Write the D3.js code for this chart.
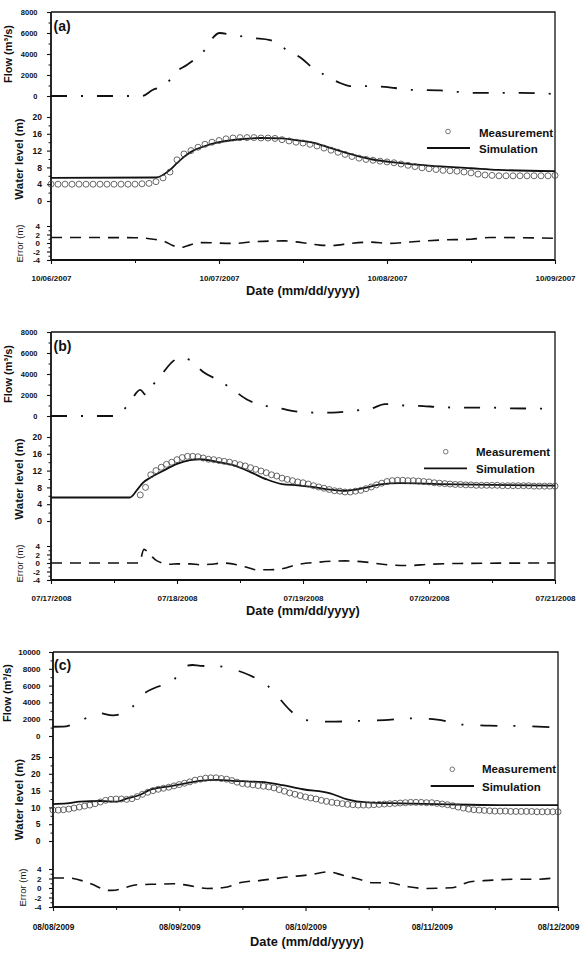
<!DOCTYPE html>
<html>
<head>
<meta charset="utf-8">
<script src="https://cdn.jsdelivr.net/npm/d3@7"></script>
<style>
body { margin: 0; background: #fff; }
svg { display: block; }
</style>
</head>
<body>
<script>
var W = 582, H = 968;
var FONT = '"Liberation Sans", Arial, Helvetica, sans-serif';

// ---- panel (a) : hours counted from 10/06/2007 00:00
var aDays = ["10/06/2007", "10/07/2007", "10/08/2007", "10/09/2007"];
var aMeas = [4.0, 4.0, 4.0, 4.0, 4.0, 4.0, 4.0, 4.0, 4.0, 4.0, 4.0, 4.0, 4.0, 4.1,
             4.2, 4.6, 5.5, 6.9, 9.8, 11.2, 12.0, 12.8, 13.5, 14.0, 14.4, 14.8, 15.0, 15.1,
             15.1, 15.1, 15.0, 15.0, 14.9, 14.6, 14.3, 14.0, 13.8, 13.5, 13.1, 12.6, 12.1, 11.6,
             11.1, 10.6, 10.2, 9.9, 9.7, 9.5, 9.3, 9.1, 8.8, 8.5, 8.2, 7.9, 7.7, 7.5,
             7.3, 7.2, 7.1, 6.9, 6.7, 6.4, 6.2, 6.1, 6.0, 6.0, 6.0, 6.0, 6.0, 6.0,
             6.0, 6.0, 6.1];
var aSim = [[0, 5.5], [15, 5.6], [17, 7.4], [18, 9.0], [19, 10.5], [20, 11.7], [21, 12.5], [22, 13.1],
            [24, 14.0], [27, 14.7], [30, 15.0], [33, 14.9], [35, 14.5], [37.4, 13.9], [40, 12.6],
            [42.3, 11.4], [45.6, 10.0], [50, 9.0], [54, 8.4], [60, 7.8], [64, 7.4], [72, 7.1]];
var aFlow = [[0, 0], [13, 0], [14.5, 570], [16, 950], [16.6, 1240], [17.7, 2190], [19.4, 2950],
             [20.4, 3430], [22.3, 4670], [23.1, 5520], [24.1, 6000], [26, 5800], [28.9, 5520],
             [31.3, 5330], [33.4, 4500], [35.9, 3520], [37.4, 2660], [39.4, 1900], [41.3, 1240],
             [42.7, 950], [44.9, 950], [47.7, 860], [49.1, 760], [52, 570], [55.6, 530],
             [58.4, 380], [61.3, 290], [67, 290], [72, 190]];
var aErr = [[0, 1.3], [12, 1.25], [14.6, 0.9], [16.3, 0.3], [17.4, -0.6], [18.4, -1.1], [19.4, -0.7],
            [21.3, 0.1], [26, -0.1], [29, 0.3], [33.4, 0.5], [35.6, 0.15], [38.4, -0.5], [40.3, -0.6],
            [42.7, -0.1], [45.6, 0.2], [48.4, -0.1], [51.7, 0.3], [55.6, 0.7], [60, 0.9],
            [62.7, 1.3], [67, 1.25], [72, 1.1]];

// ---- panel (b) : hours counted from 07/17/2008 00:00
var bDays = ["07/17/2008", "07/18/2008", "07/19/2008", "07/20/2008", "07/21/2008"];
var bMeas = [null, null, null, null, null, null, null, null, null, null, null, null, null, null, null, null, null,
             6.2, 8.0, 11.0, 12.0, 12.8, 13.5, 14.0, 14.6, 15.1, 15.4,
             15.4, 15.3, 15.0, 14.7, 14.6, 14.4, 14.2, 14.0, 13.7, 13.4,
             13.1, 12.7, 12.3, 11.9, 11.5, 11.0, 10.7, 10.2, 9.9, 9.6,
             9.3, 9.1, 8.8, 8.4, 8.1, 7.8, 7.5, 7.2, 7.1, 6.9,
             6.9, 7.1, 7.3, 7.7, 8.1, 8.6, 9.0, 9.4, 9.6, 9.7,
             9.7, 9.6, 9.6, 9.5, 9.4, 9.3, 9.1, 9.0, 8.9, 8.8,
             8.7, 8.7, 8.6, 8.6, 8.5, 8.5, 8.5, 8.5, 8.5, 8.4,
             8.4, 8.4, 8.4, 8.4, 8.4, 8.3, 8.3, 8.3, 8.3, 8.3];
var bSim = [[0, 5.6], [15, 5.6], [16.4, 7.4], [17.5, 9.1], [18.9, 10.3], [21.3, 11.9], [24, 13.6],
            [26.5, 14.5], [28.4, 14.7], [31.6, 14.1], [34.7, 13.3], [37.9, 11.7], [41.1, 9.9],
            [44, 8.8], [47, 8.5], [49.3, 8.2], [53.7, 7.4], [56, 7.2], [59.8, 7.9], [62.7, 8.7],
            [66.5, 9.0], [74, 8.8], [96, 8.4]];
var bFlow = [[0, 0], [12, 0], [14.7, 1050], [17, 2480], [18.1, 2000], [19.2, 2800], [21.3, 4100],
             [23.2, 5200], [24.6, 5550], [26.5, 5330], [29, 4190], [32.2, 3330], [34.7, 2480],
             [37.5, 1520], [41.1, 950], [44.2, 670], [47, 410], [51.2, 320], [53.7, 320],
             [57.3, 500], [60.8, 670], [63.6, 1140], [67.2, 1000], [70.9, 950], [73.5, 860],
             [77.3, 800], [83.6, 800], [87.4, 730], [96, 700]];
var bErr = [[0, 0], [16.8, 0], [17.7, 3.2], [18.9, 1.9], [20.2, 0.5], [22.7, -0.3], [24, -0.2],
            [26.5, -0.2], [28.4, -0.4], [30.3, -0.3], [32.8, 0], [35.4, -0.4], [37.3, -1.0],
            [39.2, -1.6], [41.7, -1.6], [44.2, -1.3], [46.5, -0.5], [51, 0.2], [56, 0.5],
            [60, 0.2], [64, -0.4], [68, -0.6], [72, -0.3], [78, -0.1], [96, 0]];

// ---- panel (c) : hours counted from 08/08/2009 00:00
var cDays = ["08/08/2009", "08/09/2009", "08/10/2009", "08/11/2009", "08/12/2009"];
var cMeas = [9.2, 9.2, 9.3, 9.5, 9.8, 10.1, 10.4, 10.7, 11.1, 11.6,
             12.1, 12.4, 12.5, 12.5, 12.4, 12.6, 13.2, 13.9, 14.5, 15.0,
             15.4, 15.7, 16.0, 16.4, 16.8, 17.2, 17.6, 18.1, 18.4, 18.7,
             18.8, 18.8, 18.6, 18.4, 18.0, 17.5, 17.1, 16.9, 16.7, 16.5,
             16.3, 16.1, 15.8, 15.3, 14.8, 14.3, 13.9, 13.5, 13.1, 12.8,
             12.5, 12.1, 11.8, 11.5, 11.3, 11.1, 10.9, 10.8, 10.7, 10.7,
             10.7, 10.8, 10.9, 11.0, 11.1, 11.2, 11.3, 11.4, 11.5, 11.5,
             11.5, 11.4, 11.4, 11.2, 11.0, 10.8, 10.5, 10.1, 9.8, 9.5,
             9.3, 9.2, 9.1, 9.0, 8.9, 8.9, 8.9, 8.8, 8.8, 8.8,
             8.8, 8.8, 8.7, 8.7, 8.7, 8.7, 8.7];
var cSim = [[0, 11.0], [2.6, 11.2], [5.1, 11.7], [9, 11.9], [12.2, 11.7], [14.1, 12.7], [16.5, 13.7],
            [18.4, 15.2], [21.7, 16.2], [24.7, 17.0], [27.9, 17.9], [31.2, 18.2], [34.2, 17.9],
            [37.5, 17.7], [40.7, 17.4], [43.7, 16.6], [47.5, 15.4], [52.7, 14.2], [55.9, 12.4],
            [59.7, 11.5], [66, 11.2], [75, 10.9], [85, 10.7], [96, 10.7]];
var cFlow = [[0, 1100], [1.9, 1120], [5.3, 1800], [8.4, 2750], [11.4, 2450], [14.6, 3150],
             [16.9, 4850], [19.4, 5750], [22.6, 6450], [25, 8250], [26.5, 8450], [28, 8350],
             [31.4, 8300], [35, 7800], [37.5, 7200], [40.7, 6050], [43.2, 4350], [45, 3100],
             [47.9, 1900], [52.7, 1700], [58, 1800], [63, 1900], [67.9, 2100], [73, 1950],
             [77.9, 1350], [83, 1230], [88.2, 1190], [94.5, 1050], [96, 1000]];
var cErr = [[0, 2.1], [3, 2.1], [7.2, 0.9], [10.5, -0.5], [11.2, -0.5], [16.2, 0.7], [19.8, 0.8],
            [23, 0.9], [25.4, 0.6], [29.3, -0.1], [32.5, 0.1], [36, 1.2], [39.5, 1.6], [44.5, 2.3],
            [48.9, 2.8], [52.3, 3.4], [55.1, 2.7], [58, 1.9], [60.8, 1.1], [63.7, 1.1], [67.3, 0.3],
            [70.7, -0.1], [75.8, 0.05], [79.3, 1.3], [82.9, 1.6], [87.8, 1.85], [92, 1.85], [96, 2.2]];

// ---- tick values
var flowTicks8 = [0, 2000, 4000, 6000, 8000];
var flowTicks10 = [0, 2000, 4000, 6000, 8000, 10000];
var wlTicks20 = [0, 4, 8, 12, 16, 20];
var wlTicks25 = [0, 5, 10, 15, 20, 25];
var errTicks = [-4, -2, 0, 2, 4];

var svg = d3.select("body").append("svg")
            .attr("width", W)
            .attr("height", H);

// layout shared by (a) and (b), shifted down by dy
function abLayout(dy) {
  return {
    left: 51, right: 555, top: 12 + dy, flowBase: 96 + dy, wlTop: 117 + dy, wlBase: 201 + dy,
    errTop: 226 + dy, bottom: 260 + dy,
    flowPad: 9.5, wlPad: 5, errPad: 7, flowFs: 7.5, wlFs: 8.5, errFs: 8,
    flowLab: [12, 54 + dy], wlLab: [22.5, 159 + dy], errLab: [23, 243.5 + dy],
    tagPos: [53.5, 31 + dy], tickLabY: 281 + dy, tickFs: 8, dateY: 294.5 + dy, dateX: 303, dateW: "bold",
    dash: "16,14,2,14"
  };
}

var panels = [
  Object.assign(abLayout(0), { tag: "(a)", days: aDays, meas: aMeas, sim: aSim, flow: aFlow, err: aErr,
    flowTicks: flowTicks8, wlTicks: wlTicks20, wlMinor: 2,
    leg: { cx: 448, cy: 131.5, tx: 479, t1: 136.5, lx1: 427, lx2: 470, ly: 148, t2: 152.5 } }),
  Object.assign(abLayout(320), { tag: "(b)", days: bDays, meas: bMeas, sim: bSim, flow: bFlow, err: bErr,
    flowTicks: flowTicks8, wlTicks: wlTicks20, wlMinor: 2,
    leg: { cx: 445.7, cy: 451.7, tx: 476, t1: 456, lx1: 424, lx2: 467, ly: 468.3, t2: 472.7 } }),
  { tag: "(c)", days: cDays, meas: cMeas, sim: cSim, flow: cFlow, err: cErr,
    flowTicks: flowTicks10, wlTicks: wlTicks25, wlMinor: 2.5,
    left: 53, right: 558, top: 652, flowBase: 736, wlTop: 757, wlBase: 841, errTop: 869, bottom: 907,
    flowPad: 8.5, wlPad: 8.5, errPad: 7.5, flowFs: 8, wlFs: 8.5, errFs: 8,
    flowLab: [11, 693], wlLab: [22.5, 799.5], errLab: [26, 887.5],
    tagPos: [54, 669.5], tickLabY: 930, tickFs: 8.3, dateY: 945.5, dateX: 307, dateW: "bold",
    dash: "17,16,2,17",
    leg: { cx: 452.3, cy: 769.3, tx: 482, t1: 773.3, lx1: 430.7, lx2: 474, ly: 786, t2: 790.7 } }
];

function yAxis(g, scale, ticks, minorStep, fs, pad, left) {
  var lo = ticks[0], hi = ticks[ticks.length - 1];
  var minors = d3.range(lo, hi, minorStep).filter(function(v){ return ticks.indexOf(v) < 0; });
  var ax = g.append("g")
            .attr("transform", "translate(" + left + ",0)")
            .call(d3.axisLeft(scale).tickValues(ticks).tickSize(4).tickPadding(pad)
                    .tickFormat(function(d){ return String(d); }));
  ax.select(".domain").remove();
  ax.selectAll("line").attr("stroke", "#111").attr("stroke-width", 1.1);
  ax.selectAll("text")
    .attr("font-family", FONT)
    .attr("font-size", fs)
    .attr("font-weight", "bold")
    .attr("fill", "#111");
  var mn = g.append("g")
            .attr("transform", "translate(" + left + ",0)")
            .call(d3.axisLeft(scale).tickValues(minors).tickSize(2.5).tickFormat(""));
  mn.select(".domain").remove();
  mn.selectAll("line").attr("stroke", "#111").attr("stroke-width", 1);
}

function rotLabel(g, pos, txt, fs, weight) {
  g.append("text")
   .attr("transform", "translate(" + pos[0] + "," + pos[1] + ") rotate(-90)")
   .attr("text-anchor", "middle")
   .attr("font-family", FONT)
   .attr("font-size", fs)
   .attr("font-weight", weight)
   .attr("fill", "#111")
   .text(txt);
}

function drawPanel(p) {
  var g = svg.append("g");
  var nH = (p.days.length - 1) * 24;
  var x = d3.scaleLinear().domain([0, nH]).range([p.left, p.right]);
  var yF = d3.scaleLinear().domain([0, p.flowTicks[p.flowTicks.length - 1]]).range([p.flowBase, p.top]);
  var yW = d3.scaleLinear().domain([0, p.wlTicks[p.wlTicks.length - 1]]).range([p.wlBase, p.wlTop]);
  var yE = d3.scaleLinear().domain([-4, 4]).range([p.bottom, p.errTop]);

  // top and right edges of the frame
  g.append("path")
   .attr("d", "M" + p.left + "," + p.top + "H" + p.right + "V" + p.bottom)
   .attr("fill", "none").attr("stroke", "#111").attr("stroke-width", 1.3);

  yAxis(g, yF, p.flowTicks, 1000, p.flowFs, p.flowPad, p.left);
  yAxis(g, yW, p.wlTicks, p.wlMinor, p.wlFs, p.wlPad, p.left);
  yAxis(g, yE, errTicks, 1, p.errFs, p.errPad, p.left);

  // x axis, one major tick per day, minor at noon
  var dayHours = p.days.map(function(d, i){ return i * 24; });
  var xa = g.append("g")
            .attr("transform", "translate(0," + p.bottom + ")")
            .call(d3.axisBottom(x).tickValues(dayHours).tickSize(4)
                    .tickFormat(function(d){ return p.days[d / 24]; }));
  xa.select(".domain").remove();
  xa.selectAll("line").attr("stroke", "#111").attr("stroke-width", 1.1);
  xa.selectAll("text")
    .attr("y", p.tickLabY - p.bottom)
    .attr("dy", 0)
    .attr("font-family", FONT)
    .attr("font-size", p.tickFs)
    .attr("font-weight", "bold")
    .attr("fill", "#111");
  var xm = g.append("g")
            .attr("transform", "translate(0," + p.bottom + ")")
            .call(d3.axisBottom(x).tickValues(dayHours.slice(1).map(function(h){ return h - 12; }))
                    .tickSize(3).tickFormat(""));
  xm.select(".domain").remove();
  xm.selectAll("line").attr("stroke", "#111");

  // left and bottom axis lines
  g.append("path")
   .attr("d", "M" + p.left + "," + p.top + "V" + p.bottom + "H" + p.right)
   .attr("fill", "none").attr("stroke", "#111").attr("stroke-width", 1.8);

  // flow
  g.append("path")
   .datum(p.flow)
   .attr("d", d3.line().x(function(d){ return x(d[0]); }).y(function(d){ return yF(d[1]); })
                .curve(d3.curveMonotoneX))
   .attr("fill", "none").attr("stroke", "#111").attr("stroke-width", 1.8)
   .attr("stroke-dasharray", p.dash);

  // simulated water level
  g.append("path")
   .datum(p.sim)
   .attr("d", d3.line().x(function(d){ return x(d[0]); }).y(function(d){ return yW(d[1]); })
                .curve(d3.curveMonotoneX))
   .attr("fill", "none").attr("stroke", "#111").attr("stroke-width", 1.8);

  // measured water level, hourly
  var pts = p.meas.map(function(v, i){ return [i, v]; })
                  .filter(function(d){ return d[1] !== null; });
  g.selectAll("circle.m")
   .data(pts)
   .enter()
   .append("circle")
   .attr("class", "m")
   .attr("cx", function(d){ return x(d[0]); })
   .attr("cy", function(d){ return yW(d[1]); })
   .attr("r", 3)
   .attr("fill", "none")
   .attr("stroke", "#444")
   .attr("stroke-width", 0.8);

  // error
  g.append("path")
   .datum(p.err)
   .attr("d", d3.line().x(function(d){ return x(d[0]); }).y(function(d){ return yE(d[1]); })
                .curve(d3.curveMonotoneX))
   .attr("fill", "none").attr("stroke", "#111").attr("stroke-width", 1.6)
   .attr("stroke-dasharray", "11,8");

  // axis titles
  rotLabel(g, p.flowLab, "Flow (m³/s)", 11, "bold");
  rotLabel(g, p.wlLab, "Water level (m)", 11.5, "bold");
  rotLabel(g, p.errLab, "Error (m)", 9.5, "normal");

  g.append("text")
   .attr("x", p.dateX).attr("y", p.dateY)
   .attr("text-anchor", "middle")
   .attr("font-family", FONT).attr("font-size", 12.8).attr("font-weight", p.dateW)
   .attr("fill", "#111")
   .text("Date (mm/dd/yyyy)");

  g.append("text")
   .attr("x", p.tagPos[0]).attr("y", p.tagPos[1])
   .attr("font-family", FONT).attr("font-size", 14).attr("font-weight", "bold")
   .attr("fill", "#111")
   .text(p.tag);

  // legend
  var L = p.leg;
  g.append("circle").attr("cx", L.cx).attr("cy", L.cy).attr("r", 2.3)
   .attr("fill", "none").attr("stroke", "#555").attr("stroke-width", 0.8);
  g.append("line").attr("x1", L.lx1).attr("x2", L.lx2).attr("y1", L.ly).attr("y2", L.ly)
   .attr("stroke", "#111").attr("stroke-width", 1.8);
  g.append("text").attr("x", L.tx).attr("y", L.t1)
   .attr("font-family", FONT).attr("font-size", 11.5).attr("font-weight", "bold").attr("fill", "#111")
   .text("Measurement");
  g.append("text").attr("x", L.tx).attr("y", L.t2)
   .attr("font-family", FONT).attr("font-size", 11.5).attr("font-weight", "bold").attr("fill", "#111")
   .text("Simulation");
}

panels.forEach(drawPanel);
</script>
</body>
</html>
